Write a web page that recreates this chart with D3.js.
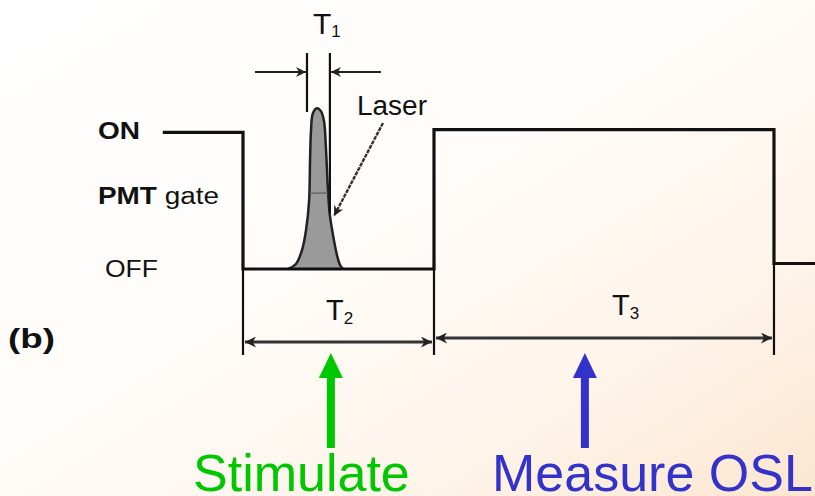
<!DOCTYPE html>
<html>
<head>
<meta charset="utf-8">
<script src="https://cdn.jsdelivr.net/npm/d3@7"></script>
<style>
  html, body { margin: 0; padding: 0; }
  svg { display: block; font-family: "Liberation Sans", Arial, sans-serif; }
</style>
</head>
<body>
<div id="chart"></div>
<script>
// PMT gate waveform (time in units of T2, level: 0 = OFF, 1 = ON)
const gateTimes  = [-0.42, 0, 0, 1.0, 1.0, 2.78, 2.78, 3.0];
const gateLevels = [0.99, 0.99, 0, 0, 1.01, 1.01, 0.04, 0.04];

// laser pulse profile
const pulseTimes  = [0.236, 0.277, 0.309, 0.330, 0.346, 0.351, 0.356, 0.366, 0.387,
                     0.408, 0.424, 0.435, 0.445, 0.455, 0.476, 0.492, 0.508, 0.524];
const pulseLevels = [0, 0.036, 0.137, 0.281, 0.496, 0.784, 1.0, 1.129, 1.165,
                     1.144, 1.072, 0.856, 0.568, 0.388, 0.209, 0.101, 0.029, 0];

// interval markers
const t1Edges = [0.335, 0.455];
const t2Edges = [0, 1.0];
const t3Edges = [1.0, 2.78];

const stateLabels = ["ON", "PMT gate", "OFF"];
const stateLevels = [1, 0.55, 0];
const actionLabels = ["Stimulate", "Measure OSL"];
const actionTimes = [0.46, 1.79];
const actionColors = ["#00c800", "#3333cc"];

const width = 815, height = 496;

const x = d3.scaleLinear().domain([0, 1]).range([243, 434]);
const y = d3.scaleLinear().domain([0, 1]).range([269, 131]);

const svg = d3.select("#chart").append("svg")
    .attr("width", width)
    .attr("height", height);

// background
const defs = svg.append("defs");
const grad = defs.append("linearGradient")
    .attr("id", "bg")
    .attr("x1", "0%").attr("y1", "0%")
    .attr("x2", "100%").attr("y2", "100%");
grad.append("stop").attr("offset", "0%").attr("stop-color", "#ffffff");
grad.append("stop").attr("offset", "45%").attr("stop-color", "#fffcf9");
grad.append("stop").attr("offset", "75%").attr("stop-color", "#fef4ea");
grad.append("stop").attr("offset", "100%").attr("stop-color", "#fce6cf");
svg.append("rect").attr("width", width).attr("height", height).attr("fill", "url(#bg)");

function arrowHead(id, color, w, h) {
    defs.append("marker")
        .attr("id", id)
        .attr("viewBox", "0 0 10 10")
        .attr("refX", 10).attr("refY", 5)
        .attr("markerUnits", "userSpaceOnUse")
        .attr("markerWidth", w).attr("markerHeight", h)
        .attr("orient", "auto-start-reverse")
        .append("path")
        .attr("d", "M0,0 L10,5 L0,10 L3,5 Z")
        .attr("fill", color);
}
arrowHead("dim", "#222", 15, 11);
arrowHead("small", "#222", 13, 10);

// laser pulse
const pulse = pulseTimes.map((t, i) => [t, pulseLevels[i]]);
svg.append("path")
    .datum(pulse)
    .attr("d", d3.line().x(d => x(d[0])).y(d => y(d[1])).curve(d3.curveCatmullRom))
    .attr("fill", "#9a9a9a")
    .attr("stroke", "#222")
    .attr("stroke-width", 2.5);
svg.append("line")
    .attr("x1", x(0.35)).attr("x2", x(0.443))
    .attr("y1", y(0.55)).attr("y2", y(0.55))
    .attr("stroke", "#666").attr("stroke-width", 1.5);

// gate waveform
const gate = gateTimes.map((t, i) => [t, gateLevels[i]]);
svg.append("path")
    .datum(gate)
    .attr("d", d3.line().x(d => x(d[0])).y(d => y(d[1])))
    .attr("fill", "none")
    .attr("stroke", "#111")
    .attr("stroke-width", 3.2);

// extension lines below the waveform
[0, 1.0, 2.78].forEach(t => {
    svg.append("line")
        .attr("x1", x(t)).attr("x2", x(t))
        .attr("y1", y(0.04)).attr("y2", 355)
        .attr("stroke", "#111").attr("stroke-width", 2.2);
});

// T2 and T3 dimension arrows
function dimension(edges, yPos, label, labelX, labelY) {
    svg.append("line")
        .attr("x1", x(edges[0]) + 2).attr("x2", x(edges[1]) - 2)
        .attr("y1", yPos).attr("y2", yPos)
        .attr("stroke", "#333").attr("stroke-width", 2.8)
        .attr("marker-start", "url(#dim)")
        .attr("marker-end", "url(#dim)");
    const t = svg.append("text")
        .attr("x", labelX).attr("y", labelY)
        .attr("font-size", 29)
        .attr("fill", "#111");
    t.append("tspan").text("T");
    t.append("tspan").attr("font-size", 17).attr("dy", 4).text(label);
}
dimension(t2Edges, 342, "2", 326, 320);
dimension(t3Edges, 338, "3", 612, 315);

// T1 markers
t1Edges.forEach((t, i) => {
    svg.append("line")
        .attr("x1", x(t)).attr("x2", x(t))
        .attr("y1", 53).attr("y2", i === 0 ? 112 : 213)
        .attr("stroke", "#111").attr("stroke-width", 2.2);
});
svg.append("line")
    .attr("x1", 255).attr("x2", x(t1Edges[0]) - 1)
    .attr("y1", 72).attr("y2", 72)
    .attr("stroke", "#222").attr("stroke-width", 2.2)
    .attr("marker-end", "url(#small)");
svg.append("line")
    .attr("x1", 381).attr("x2", x(t1Edges[1]) + 1)
    .attr("y1", 72).attr("y2", 72)
    .attr("stroke", "#222").attr("stroke-width", 2.2)
    .attr("marker-end", "url(#small)");
const t1 = svg.append("text").attr("x", 313).attr("y", 34).attr("font-size", 30).attr("fill", "#111");
t1.append("tspan").text("T");
t1.append("tspan").attr("font-size", 17).attr("dy", 3).text("1");

// laser label + pointer
svg.append("text")
    .attr("x", 357).attr("y", 115)
    .attr("font-size", 27)
    .attr("fill", "#111")
    .attr("textLength", 70).attr("lengthAdjust", "spacingAndGlyphs")
    .text("Laser");
svg.append("line")
    .attr("x1", 383).attr("y1", 123)
    .attr("x2", 334).attr("y2", 216)
    .attr("stroke", "#333").attr("stroke-width", 2.4)
    .attr("stroke-dasharray", "4,1")
    .attr("marker-end", "url(#small)");

// state labels
const stateX = [98, 98, 105];
const stateLen = [42, 121, 53];
const stateDy = [8, 11, 8];
stateLabels.forEach((s, i) => {
    const t = svg.append("text")
        .attr("x", stateX[i])
        .attr("y", y(stateLevels[i]) + stateDy[i])
        .attr("font-size", 23)
        .attr("fill", "#111")
        .attr("textLength", stateLen[i]).attr("lengthAdjust", "spacingAndGlyphs");
    if (i === 1) {
        t.append("tspan").attr("font-weight", "bold").text("PMT");
        t.append("tspan").text(" gate");
    } else {
        t.attr("font-weight", i === 0 ? "bold" : "normal").text(s);
    }
});

svg.append("text")
    .attr("x", 8).attr("y", 348)
    .attr("font-size", 27)
    .attr("font-weight", "bold")
    .attr("fill", "#111")
    .attr("textLength", 47).attr("lengthAdjust", "spacingAndGlyphs")
    .text("(b)");

// coloured action arrows + labels
const actionTextX = [193, 492];
actionLabels.forEach((s, i) => {
    const cx = x(actionTimes[i]);
    svg.append("rect")
        .attr("x", cx - 4).attr("y", 376)
        .attr("width", 8).attr("height", 72)
        .attr("fill", actionColors[i]);
    svg.append("path")
        .attr("d", `M${cx},353 L${cx + 12},378 L${cx - 12},378 Z`)
        .attr("fill", actionColors[i]);
    svg.append("text")
        .attr("x", actionTextX[i]).attr("y", 491)
        .attr("font-size", 52)
        .attr("fill", actionColors[i])
        .text(s);
});
</script>
</body>
</html>
